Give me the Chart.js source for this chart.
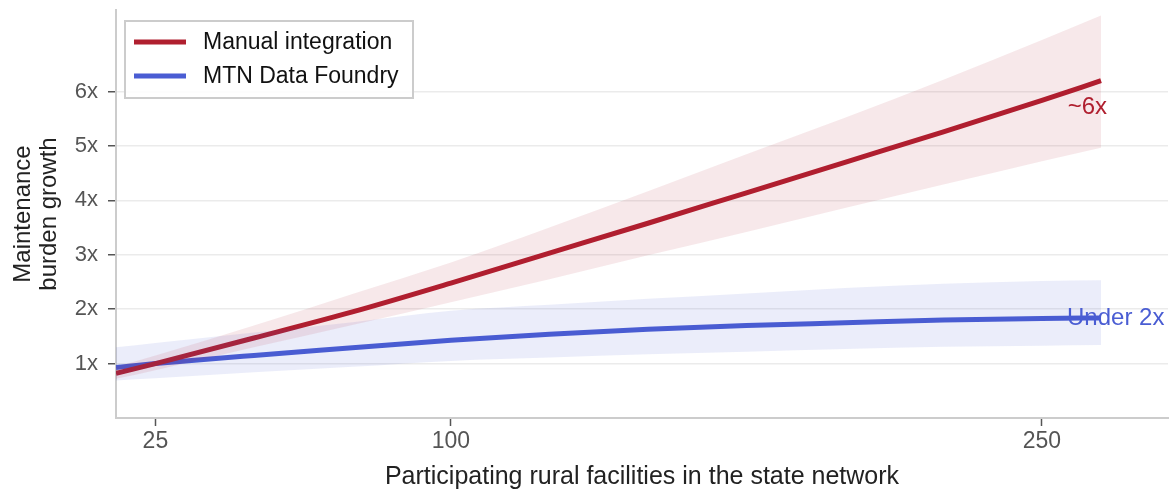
<!DOCTYPE html>
<html>
<head>
<meta charset="utf-8">
<script src="https://cdn.jsdelivr.net/npm/chart.js@4.4.1/dist/chart.umd.min.js"></script>
<style>
  html, body { margin: 0; padding: 0; background: #fff; }
  #wrap { width: 1171px; height: 490px; position: relative; }
</style>
</head>
<body>
<div id="wrap"><canvas id="chart"></canvas></div>
<script>
// facilities (x) and the two series with their uncertainty bands
const facilities = [15, 25, 50, 75, 100, 125, 150, 175, 200, 225, 250, 265];
const manual      = [0.82, 1.00, 1.47, 1.95, 2.48, 3.03, 3.58, 4.14, 4.70, 5.26, 5.84, 6.20];
const manualHigh  = [0.94, 1.15, 1.70, 2.28, 2.86, 3.50, 4.17, 4.85, 5.52, 6.22, 6.95, 7.40];
const manualLow   = [0.72, 0.88, 1.30, 1.71, 2.13, 2.55, 2.99, 3.42, 3.86, 4.29, 4.72, 4.97];
const foundry     = [0.93, 1.00, 1.15, 1.29, 1.43, 1.54, 1.63, 1.70, 1.75, 1.80, 1.83, 1.84];
const foundryHigh = [1.30, 1.38, 1.57, 1.76, 1.97, 2.08, 2.19, 2.29, 2.39, 2.47, 2.52, 2.53];
const foundryLow  = [0.69, 0.73, 0.84, 0.94, 1.05, 1.11, 1.17, 1.22, 1.27, 1.31, 1.33, 1.34];
const xTicks = [25, 100, 250];
const yTicks = [1, 2, 3, 4, 5, 6];
const seriesNames = ['Manual integration', 'MTN Data Foundry'];
const endLabels = ['~6x', 'Under 2x'];

const RED = '#b01f2f';
const BLUE = '#4a5dd3';
const FONT = '"Liberation Sans", Arial, Helvetica, sans-serif';

const pts = ys => facilities.map((x, i) => ({ x: x, y: ys[i] }));

// legend box + end labels drawn on top
const overlay = {
    id: 'overlay',
    afterDatasetsDraw(chart) {
        const ctx = chart.ctx;
        const xs = chart.scales.x, ys = chart.scales.y;
        const last = facilities.length - 1;
        const xe = xs.getPixelForValue(facilities[last]);

        ctx.save();
        ctx.font = '24px ' + FONT;
        ctx.textBaseline = 'middle';
        ctx.fillStyle = RED;
        ctx.textAlign = 'right';
        ctx.fillText(endLabels[0], xe + 6, ys.getPixelForValue(manual[last]) + 27);
        ctx.fillStyle = BLUE;
        ctx.textAlign = 'left';
        ctx.fillText(endLabels[1], xe - 34, ys.getPixelForValue(foundry[last]));

        // legend
        const lx = 125, ly = 21, lw = 288, lh = 77;
        ctx.fillStyle = 'rgba(255,255,255,0.9)';
        ctx.fillRect(lx, ly, lw, lh);
        ctx.strokeStyle = '#cccccc';
        ctx.lineWidth = 2;
        ctx.strokeRect(lx, ly, lw, lh);
        ctx.font = '23px ' + FONT;
        [RED, BLUE].forEach((c, i) => {
            const yy = ly + 21 + i * 34;
            ctx.strokeStyle = c;
            ctx.lineWidth = 5;
            ctx.beginPath();
            ctx.moveTo(134, yy);
            ctx.lineTo(186, yy);
            ctx.stroke();
            ctx.fillStyle = '#111';
            ctx.textAlign = 'left';
            ctx.fillText(seriesNames[i], 203, yy + 1);
        });
        ctx.restore();
    }
};

new Chart(document.getElementById('chart').getContext('2d'), {
    type: 'line',
    data: {
        datasets: [
            { data: pts(manualHigh), fill: '+1', backgroundColor: 'rgba(176,31,47,0.10)', borderWidth: 0, pointRadius: 0, cubicInterpolationMode: 'monotone' },
            { data: pts(manualLow), fill: false, borderWidth: 0, pointRadius: 0, cubicInterpolationMode: 'monotone' },
            { data: pts(foundryHigh), fill: '+1', backgroundColor: 'rgba(74,93,211,0.11)', borderWidth: 0, pointRadius: 0, cubicInterpolationMode: 'monotone' },
            { data: pts(foundryLow), fill: false, borderWidth: 0, pointRadius: 0, cubicInterpolationMode: 'monotone' },
            { label: seriesNames[0], data: pts(manual), borderColor: RED, borderWidth: 5, pointRadius: 0, fill: false, cubicInterpolationMode: 'monotone' },
            { label: seriesNames[1], data: pts(foundry), borderColor: BLUE, borderWidth: 5, pointRadius: 0, fill: false, cubicInterpolationMode: 'monotone' }
        ]
    },
    options: {
        responsive: true,
        maintainAspectRatio: false,
        animation: false,
        layout: { padding: { top: 10, right: 3, left: 0, bottom: 0 } },
        plugins: { legend: { display: false }, tooltip: { enabled: false } },
        scales: {
            x: {
                type: 'linear',
                min: 15,
                max: 282,
                afterBuildTicks: s => { s.ticks = xTicks.map(v => ({ value: v })); },
                afterFit: s => { s.height = 72; s.paddingLeft = 0; s.paddingRight = 0; },
                grid: { drawOnChartArea: false, drawTicks: true, tickLength: 8, tickColor: '#555', tickWidth: 1.5 },
                border: { color: '#cccccc', width: 2 },
                ticks: { color: '#555', font: { family: FONT, size: 23 }, padding: 2, maxRotation: 0 },
                title: { display: true, text: 'Participating rural facilities in the state network', color: '#222', font: { family: FONT, size: 25, lineHeight: 1.0 }, padding: { top: 0, bottom: 0 } }
            },
            y: {
                min: 0,
                max: 7.5,
                afterBuildTicks: s => { s.ticks = yTicks.map(v => ({ value: v })); },
                afterFit: s => { s.width = 116; s.paddingTop = 0; s.paddingBottom = 0; },
                grid: { color: '#ebebeb', lineWidth: 1.5, tickLength: 8, tickColor: '#555', tickWidth: 1.5 },
                border: { color: '#cccccc', width: 2 },
                ticks: { color: '#555', font: { family: FONT, size: 22 }, padding: 10, callback: v => v + 'x' },
                title: { display: true, text: ['Maintenance', 'burden growth'], color: '#222', font: { family: FONT, size: 24, lineHeight: 1.08 }, padding: { top: 10, bottom: 0 } }
            }
        }
    },
    plugins: [overlay]
});
</script>
</body>
</html>
